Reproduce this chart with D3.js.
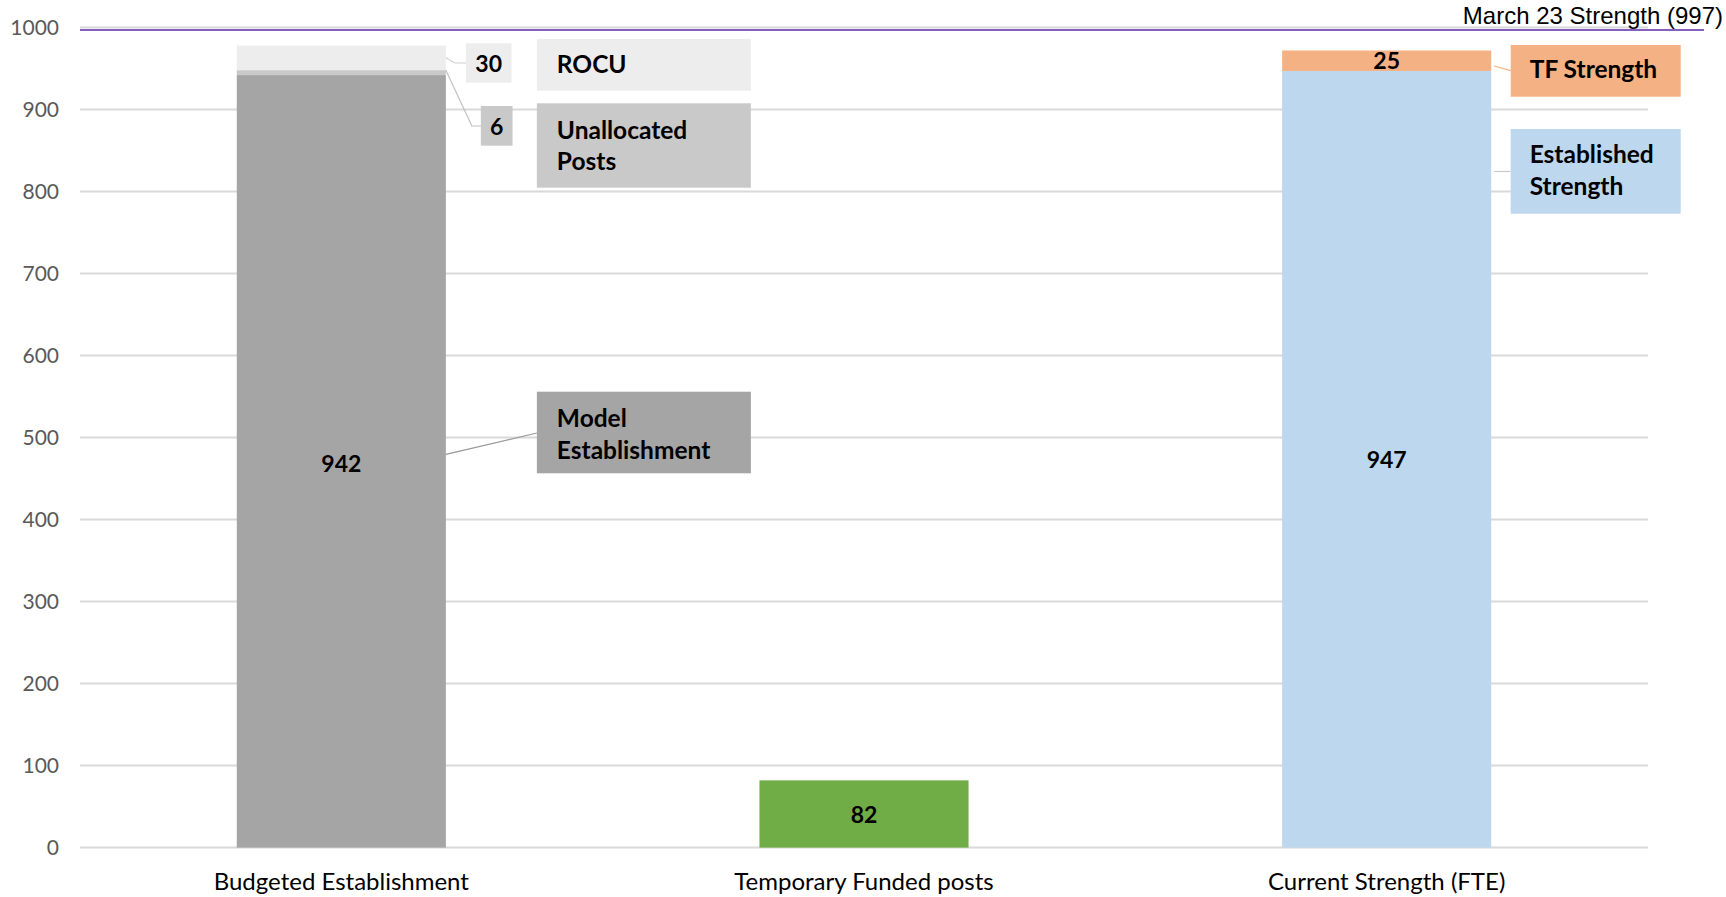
<!DOCTYPE html>
<html>
<head>
<meta charset="utf-8">
<script src="https://cdn.jsdelivr.net/npm/d3@7"></script>
<style>
  html, body { margin: 0; padding: 0; background: #ffffff; }
  svg { display: block; }
</style>
</head>
<body>
<svg id="chart" width="1726" height="897"></svg>
<script>
// ---- Data -------------------------------------------------------------
const categories = ["Budgeted Establishment", "Temporary Funded posts", "Current Strength (FTE)"];
const seriesNames = ["Model Establishment", "Unallocated Posts", "ROCU", "Temporary Funded", "Established Strength", "TF Strength"];
const modelEstablishment  = [942, 0, 0];
const unallocatedPosts    = [6, 0, 0];
const rocu                = [30, 0, 0];
const temporaryFunded     = [0, 82, 0];
const establishedStrength = [0, 0, 947];
const tfStrength          = [0, 0, 25];
const yTicks = [0, 100, 200, 300, 400, 500, 600, 700, 800, 900, 1000];
const marchStrength = 997;
const marchLabel = "March 23 Strength (997)";

// ---- Styling ----------------------------------------------------------
const colors = {
  "Model Establishment": "#a5a5a5",
  "Unallocated Posts": "#c9c9c9",
  "ROCU": "#ededed",
  "Temporary Funded": "#70ad47",
  "Established Strength": "#bdd7ee",
  "TF Strength": "#f4b183"
};
const FONT = "Lato, 'Noto Sans', sans-serif";
const CALLOUT_SIZE = 24.5;

// ---- Build stacked table ----------------------------------------------
const seriesValues = [modelEstablishment, unallocatedPosts, rocu, temporaryFunded, establishedStrength, tfStrength];
const table = categories.map((c, i) => {
  const row = { category: c };
  seriesNames.forEach((s, k) => row[s] = seriesValues[k][i]);
  return row;
});
const stacked = d3.stack().keys(seriesNames)(table);

// ---- Scales -----------------------------------------------------------
const svg = d3.select("#chart");
const plot = { left: 80, right: 1648, top: 27.5, bottom: 847.6 };

const x = d3.scaleBand()
  .domain(categories)
  .range([plot.left, plot.right])
  .paddingInner(0.6)
  .paddingOuter(0.3);

const y = d3.scaleLinear()
  .domain([0, 1000])
  .range([plot.bottom, plot.top]);

// ---- Gridlines --------------------------------------------------------
svg.append("g")
  .selectAll("line")
  .data(yTicks)
  .join("line")
  .attr("x1", plot.left)
  .attr("x2", plot.right)
  .attr("y1", d => y(d))
  .attr("y2", d => y(d))
  .attr("stroke", "#d9d9d9")
  .attr("stroke-width", 2);

// ---- Y axis labels ----------------------------------------------------
const yAxis = d3.axisLeft(y).tickValues(yTicks).tickSize(0).tickPadding(0).tickFormat(d3.format("d"));
const yAxisG = svg.append("g")
  .attr("transform", `translate(${plot.left - 21},0)`)
  .call(yAxis);
yAxisG.select(".domain").remove();
yAxisG.selectAll("text")
  .attr("font-family", FONT)
  .attr("font-size", 21)
  .attr("fill", "#595959");

// ---- Bars -------------------------------------------------------------
svg.append("g")
  .selectAll("g")
  .data(stacked)
  .join("g")
  .attr("fill", d => colors[d.key])
  .selectAll("rect")
  .data(d => d.filter(p => p[1] - p[0] > 0))
  .join("rect")
  .attr("x", d => x(d.data.category))
  .attr("width", x.bandwidth())
  .attr("y", d => y(d[1]))
  .attr("height", d => y(d[0]) - y(d[1]));

// ---- X axis labels ----------------------------------------------------
const xAxis = d3.axisBottom(x).tickSize(0).tickPadding(0);
const xAxisG = svg.append("g")
  .attr("transform", `translate(0,${plot.bottom + 25})`)
  .call(xAxis);
xAxisG.select(".domain").remove();
xAxisG.selectAll("text")
  .attr("font-family", FONT)
  .attr("font-size", 24)
  .attr("fill", "#000000")
  .attr("dy", "0.71em");

// ---- Reference line: March 23 strength --------------------------------
svg.append("line")
  .attr("x1", plot.left)
  .attr("x2", 1704)
  .attr("y1", y(marchStrength))
  .attr("y2", y(marchStrength))
  .attr("stroke", "#8560c0")
  .attr("stroke-width", 2);
svg.append("text")
  .attr("x", 1723)
  .attr("y", y(marchStrength) - 6)
  .attr("text-anchor", "end")
  .attr("font-family", "'Liberation Sans', Arial, sans-serif")
  .attr("font-size", 24)
  .attr("fill", "#000000")
  .text(marchLabel);

// ---- Value labels inside bars -----------------------------------------
function seg(key, catIndex) {
  const s = stacked.find(d => d.key === key);
  return s[catIndex];
}
const inBar = [
  { key: "Model Establishment", cat: 0, dy: 11 },
  { key: "Temporary Funded", cat: 1, dy: 9 },
  { key: "Established Strength", cat: 2, dy: 9 },
  { key: "TF Strength", cat: 2, dy: 8 }
];
svg.append("g")
  .selectAll("text")
  .data(inBar)
  .join("text")
  .attr("x", d => x(categories[d.cat]) + x.bandwidth() / 2)
  .attr("y", d => { const p = seg(d.key, d.cat); return y((p[0] + p[1]) / 2) + d.dy; })
  .attr("text-anchor", "middle")
  .attr("font-family", FONT)
  .attr("font-weight", 700)
  .attr("font-size", 23)
  .attr("fill", "#000000")
  .text(d => { const p = seg(d.key, d.cat); return p[1] - p[0]; });

// ---- Callouts ---------------------------------------------------------
const callG = svg.append("g");
const leftEdge = x(categories[0]) + x.bandwidth();
const rightEdge = x(categories[2]) + x.bandwidth();

function box(x0, y0, w, h, fill) {
  callG.append("rect").attr("x", x0).attr("y", y0).attr("width", w).attr("height", h).attr("fill", fill);
}
function boxText(x0, baselines, lines, anchor, size) {
  lines.forEach((t, i) => {
    callG.append("text")
      .attr("x", x0)
      .attr("y", baselines[i])
      .attr("text-anchor", anchor || "start")
      .attr("font-family", FONT)
      .attr("font-weight", 700)
      .attr("font-size", size || CALLOUT_SIZE)
      .attr("fill", "#000000")
      .text(t);
  });
}
function leader(points, color) {
  callG.append("path")
    .attr("d", d3.line()(points))
    .attr("fill", "none")
    .attr("stroke", color)
    .attr("stroke-width", 1.2);
}

// ROCU
{
  const p = seg("ROCU", 0);
  const cy = 63;
  leader([[leftEdge, y((p[0] + p[1]) / 2)], [leftEdge + 9, cy], [leftEdge + 20, cy]], "#d0d0d0");
  box(leftEdge + 20, 43.3, 45.7, 39.4, colors["ROCU"]);
  boxText(leftEdge + 20 + 22.8, [71.7], [String(p[1] - p[0])], "middle", 23);
  box(leftEdge + 91, 39, 214, 51.7, colors["ROCU"]);
  boxText(leftEdge + 111, [73.3], ["ROCU"]);
}
// Unallocated Posts
{
  const p = seg("Unallocated Posts", 0);
  const cy = 126;
  leader([[leftEdge, y(p[1])], [leftEdge + 26, cy], [leftEdge + 35, cy]], "#c0c0c0");
  box(leftEdge + 35, 106, 31.7, 39.7, colors["Unallocated Posts"]);
  boxText(leftEdge + 35 + 15.8, [135], [String(p[1] - p[0])], "middle", 23);
  box(leftEdge + 91, 103.3, 214, 84.4, colors["Unallocated Posts"]);
  boxText(leftEdge + 111, [138.5, 169.5], ["Unallocated", "Posts"]);
}
// Model Establishment
{
  const p = seg("Model Establishment", 0);
  leader([[leftEdge, y((p[0] + p[1]) / 2) - 7], [leftEdge + 91, 433]], "#9a9a9a");
  box(leftEdge + 91, 391.7, 214, 81.6, colors["Model Establishment"]);
  boxText(leftEdge + 111, [426.7, 459], ["Model", "Establishment"]);
}
// TF Strength
{
  leader([[rightEdge + 3, 66], [rightEdge + 19.5, 70.7]], colors["TF Strength"]);
  box(rightEdge + 19.5, 45, 170, 51.7, colors["TF Strength"]);
  boxText(rightEdge + 38.5, [78.3], ["TF Strength"]);
}
// Established Strength
{
  leader([[rightEdge + 3, 171.5], [rightEdge + 19.5, 171.5]], "#c8c8c8");
  box(rightEdge + 19.5, 129, 170, 84.7, colors["Established Strength"]);
  boxText(rightEdge + 38.5, [163.3, 195], ["Established", "Strength"]);
}
</script>
</body>
</html>
